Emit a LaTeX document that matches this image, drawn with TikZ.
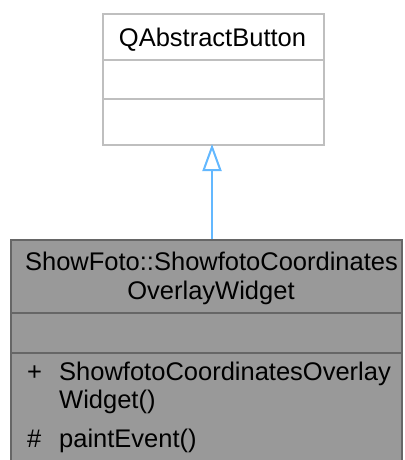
\documentclass[tikz,border=0pt]{standalone}
\usepackage{fontspec}
\setmainfont{Liberation Sans}
\usetikzlibrary{arrows.meta}
\definecolor{basebd}{HTML}{BFBFBF}
\definecolor{derfill}{HTML}{999999}
\definecolor{derbd}{HTML}{666666}
\definecolor{inh}{HTML}{63B8FF}
\begin{document}
\begin{tikzpicture}[x=1pt,y=-1pt,
  txt/.style={inner sep=0pt,font=\fontsize{25.5}{29}\selectfont},
  classbox/.style={rectangle,inner sep=0pt,line width=2pt},
  sepline/.style={line width=2pt}]
\useasboundingbox (0,0) rectangle (404,460);
% base class
\node[classbox,draw=basebd,fill=white,minimum width=221pt,minimum height=131pt,anchor=north west] (base) at (102,13) {};
\draw[sepline,basebd] (102,60) coordinate (bs1a) -- (323,60) coordinate (bs1b);
\draw[sepline,basebd] (102,99) coordinate (bs2a) -- (323,99) coordinate (bs2b);
\node[txt,anchor=base] (basename) at (212.5,47) {QAbstractButton};
% derived class
\node[classbox,draw=derbd,fill=derfill,minimum width=391pt,minimum height=221pt,anchor=north west] (der) at (10,239) {};
\draw[sepline,derbd] (10,313) coordinate (ds1a) -- (401,313) coordinate (ds1b);
\draw[sepline,derbd] (10,353) coordinate (ds2a) -- (401,353) coordinate (ds2b);
\node[txt,anchor=base] (dername1) at (211.5,270) {ShowFoto::ShowfotoCoordinates};
\node[txt,anchor=base] (dername2) at (211,299) {OverlayWidget};
\node[txt,anchor=base west] (m1vis) at (27,380) {+};
\node[txt,anchor=base west] (m1a) at (59,380) {ShowfotoCoordinatesOverlay};
\node[txt,anchor=base west] (m1b) at (59,408) {Widget()};
\node[txt,anchor=base west] (m2vis) at (27,447) {\#};
\node[txt,anchor=base west] (m2) at (59,447) {paintEvent()};
% inheritance
\coordinate (arrtip) at (212,144);
\coordinate (arrfoot) at (212,239);
\draw[inh,line width=2pt,-{Triangle[open,width=19pt,length=27pt,line width=2pt]}] (arrfoot) -- (arrtip);
\end{tikzpicture}
\end{document}
